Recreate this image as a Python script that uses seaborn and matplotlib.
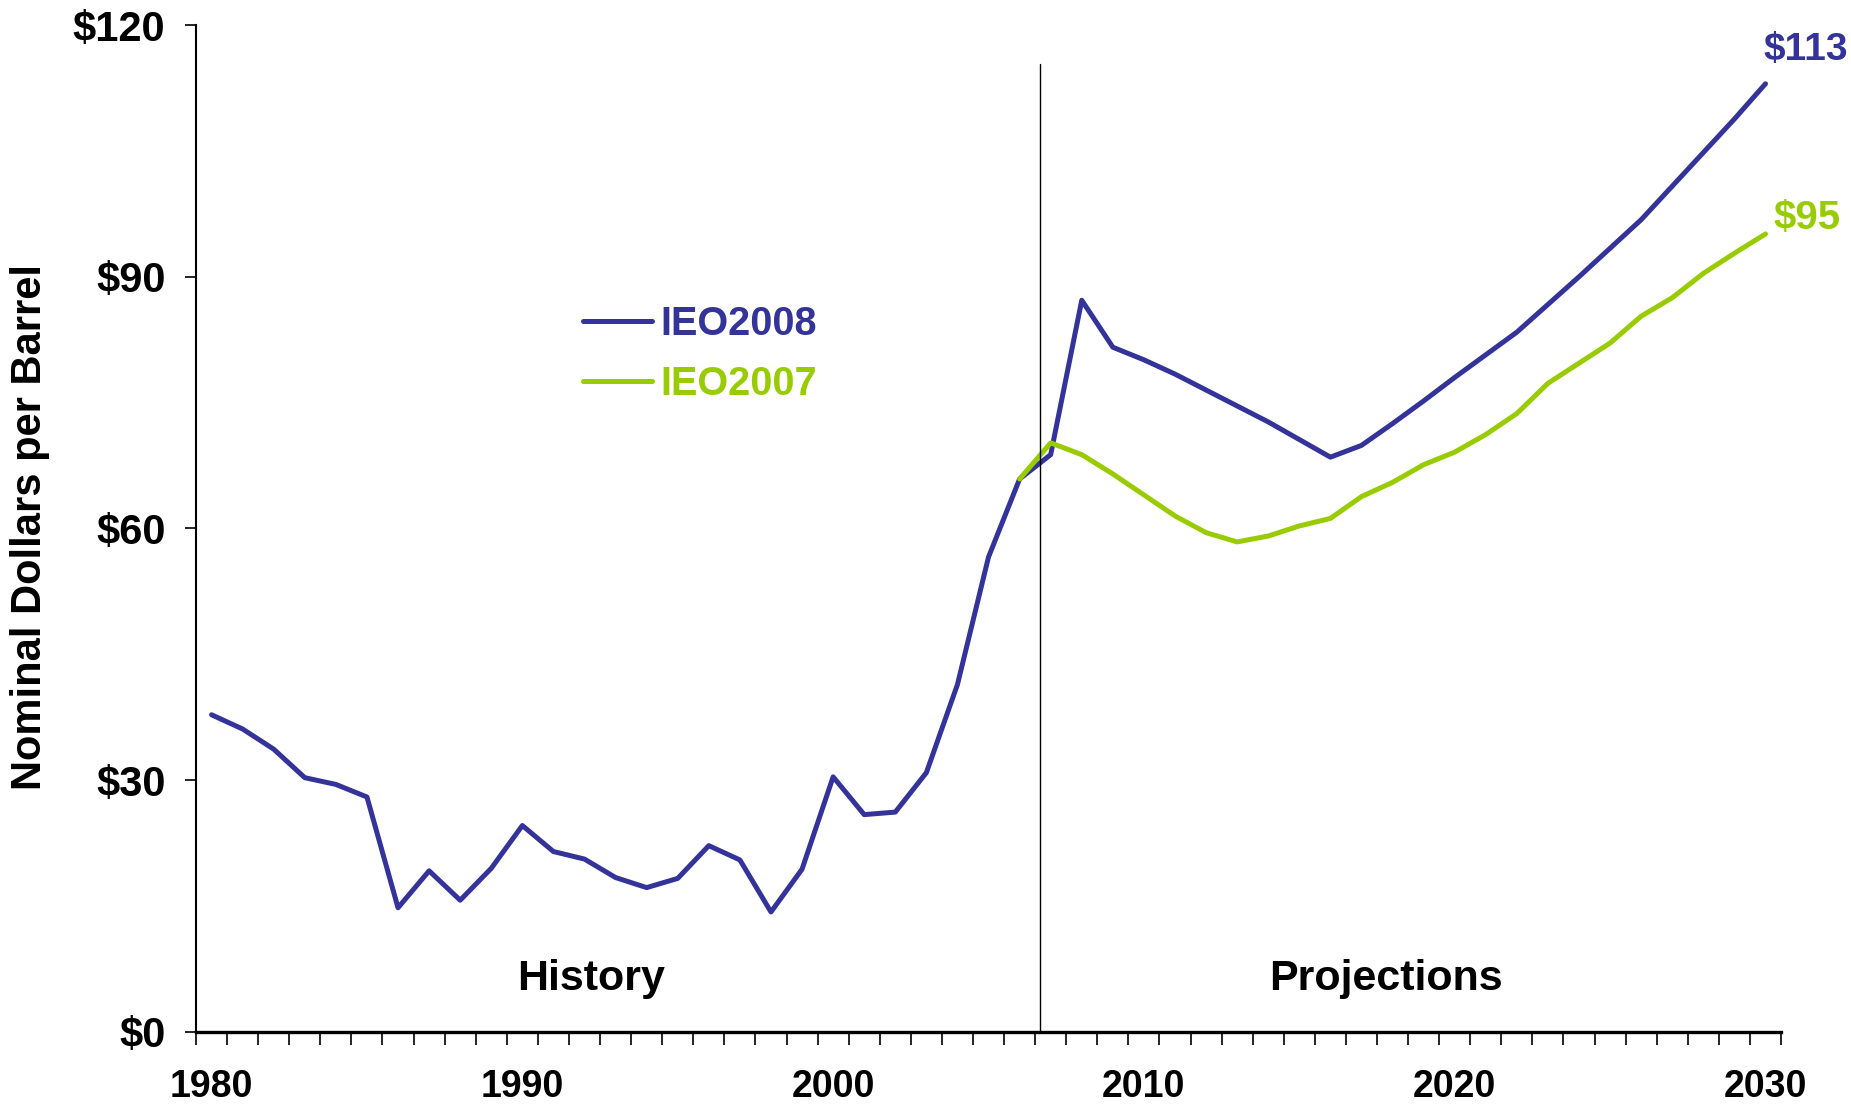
import pandas as pd
import numpy as np
import matplotlib.pyplot as plt
import seaborn as sns

# World oil price, nominal dollars per barrel
years_ieo2008 = list(range(1980, 2031))
price_ieo2008 = [37.8, 36.1, 33.7, 30.3, 29.5, 28.0, 14.8, 19.2, 15.7, 19.5,
                 24.6, 21.5, 20.6, 18.4, 17.2, 18.3, 22.2, 20.5, 14.3, 19.4,
                 30.4, 25.9, 26.2, 30.9, 41.4, 56.6, 65.9, 68.8, 87.2, 81.6,
                 80.1, 78.4, 76.5, 74.6, 72.7, 70.6, 68.5, 69.9, 72.5, 75.2,
                 78.0, 80.7, 83.4, 86.7, 90.0, 93.4, 96.8, 100.8, 104.8, 108.8,
                 113.0]
years_ieo2007 = list(range(2006, 2031))
price_ieo2007 = [65.9, 70.2, 68.8, 66.5, 64.0, 61.5, 59.5, 58.4, 59.1, 60.3,
                 61.2, 63.8, 65.5, 67.6, 69.1, 71.2, 73.7, 77.3, 79.7, 82.1,
                 85.3, 87.5, 90.4, 92.8, 95.1]

series_names = ['IEO2008', 'IEO2007']
series_colors = ['#333399', '#99CC00']
end_labels = ['$113', '$95']
y_ticks = [0, 30, 60, 90, 120]
y_tick_labels = ['$0', '$30', '$60', '$90', '$120']
x_tick_years = [1980, 1990, 2000, 2010, 2020, 2030]

df = pd.concat([
    pd.DataFrame({'Year': years_ieo2008, 'Price': price_ieo2008, 'Series': 'IEO2008'}),
    pd.DataFrame({'Year': years_ieo2007, 'Price': price_ieo2007, 'Series': 'IEO2007'}),
], ignore_index=True)

sns.set_style('white')
plt.rcParams['font.family'] = ['Liberation Sans', 'DejaVu Sans']
plt.rcParams['font.weight'] = 'bold'
plt.rcParams['text.color'] = 'black'
plt.rcParams['xtick.color'] = 'black'
plt.rcParams['ytick.color'] = 'black'

fig = plt.figure(figsize=(18.51, 11.07), dpi=100)
ax = fig.add_axes([0.1059, 0.0678, 0.8563, 0.9096])

sns.lineplot(data=df, x='Year', y='Price', hue='Series', hue_order=series_names,
             palette=series_colors, estimator=None, linewidth=3.6, ax=ax)

ax.set_xlim(1979.5, 2030.5)
ax.set_ylim(0, 120)
ax.set_xlabel('')
ax.set_ylabel('')

for side in ['top', 'right']:
    ax.spines[side].set_visible(False)
ax.spines['left'].set_linewidth(1.5)
ax.spines['left'].set_color('black')
ax.spines['bottom'].set_linewidth(2.4)
ax.spines['bottom'].set_color('black')

# ticks between categories, labels at decades
ax.set_xticks(x_tick_years)
ax.set_xticklabels([str(y) for y in x_tick_years])
ax.set_xticks(np.arange(1979.5, 2031, 1), minor=True)
ax.tick_params(axis='x', which='major', length=0, pad=27, labelsize=27)
ax.tick_params(axis='x', which='minor', length=9, width=1.2, color='black',
               direction='out', bottom=True)
ax.set_yticks(y_ticks)
ax.set_yticklabels(y_tick_labels)
ax.tick_params(axis='y', length=8, width=1.2, color='black', direction='out',
               left=True, pad=14, labelsize=30)
for lab in ax.get_xticklabels() + ax.get_yticklabels():
    lab.set_fontweight('bold')
    lab.set_color('black')

# history / projections divider
ax.plot([2006.66, 2006.66], [0, 115.3], color='black', linewidth=1.0, clip_on=False)
ax.text(1992.2, 6.3, 'History', ha='center', va='center', fontsize=31, fontweight='bold')
ax.text(2017.8, 6.3, 'Projections', ha='center', va='center', fontsize=31, fontweight='bold')

# end-of-line labels
ax.text(2029.95, 117.0, end_labels[0], color=series_colors[0], ha='left', va='center',
        fontsize=28, fontweight='bold', clip_on=False)
ax.text(2030.25, 97.0, end_labels[1], color=series_colors[1], ha='left', va='center',
        fontsize=29, fontweight='bold', clip_on=False)

fig.text(30 / 1851, 0.524, 'Nominal Dollars per Barrel', rotation=90, ha='center',
         va='center', fontsize=30, fontweight='bold')

handles, labels = ax.get_legend_handles_labels()
leg = ax.legend(handles, labels, loc='center left', bbox_to_anchor=(0.315, 0.6805),
                bbox_transform=fig.transFigure, frameon=False, fontsize=28.5,
                handlelength=1.75, handletextpad=0.2, labelspacing=0.55,
                borderpad=0, borderaxespad=0)
for text, color in zip(leg.get_texts(), series_colors):
    text.set_color(color)
    text.set_fontweight('bold')
for line in leg.get_lines():
    line.set_linewidth(3.6)

fig.savefig('out.png', dpi=100)
